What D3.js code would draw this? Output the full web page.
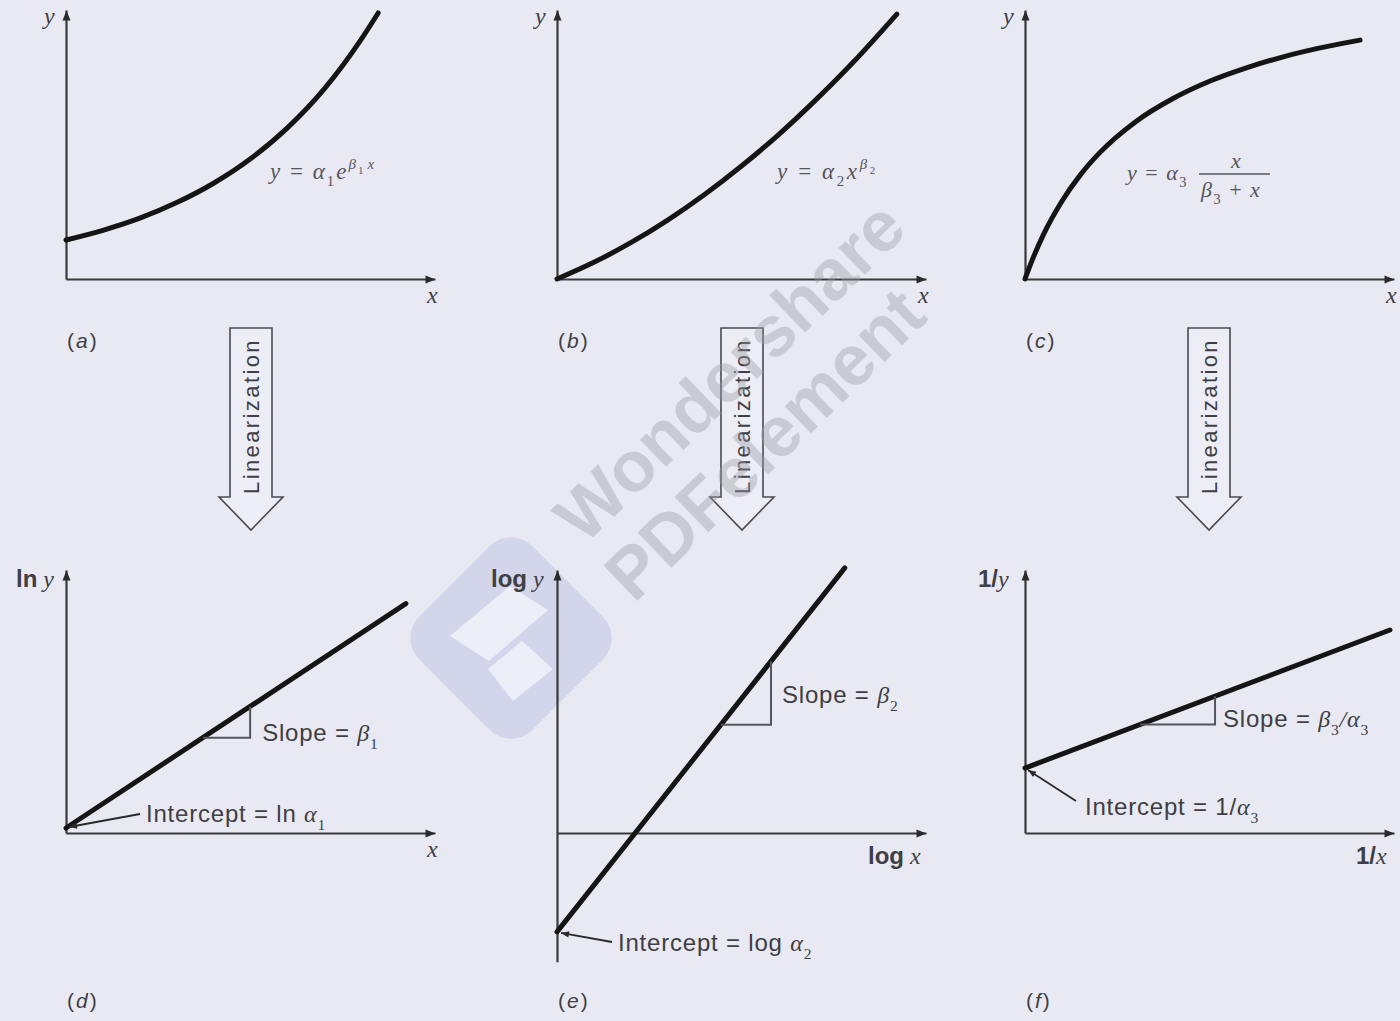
<!DOCTYPE html>
<html>
<head>
<meta charset="utf-8">
<script src="https://cdn.jsdelivr.net/npm/d3@7"></script>
<style>
  body { margin: 0; background: #e9e9f3; }
  svg { display: block; }
</style>
</head>
<body>
<div id="chart"></div>
<script>
// curve samples, in % of each axis length
const expX = [0, 10, 20, 30, 40, 50, 60, 70, 80, 84.6];
const expY = [14.5, 18.1, 22.6, 28.4, 35.6, 44.7, 56.2, 70.7, 89.1, 98.9];

const powX = [0, 10, 20, 30, 40, 50, 60, 70, 80, 92.1];
const powY = [0, 6.2, 13.5, 21.9, 31.4, 42.0, 53.6, 66.4, 80.2, 98.5];

const satX = [0, 2, 5, 10, 15, 20, 30, 40, 50, 60, 70, 80, 90.8];
const satY = [0, 7.2, 16.5, 28.9, 38.7, 46.6, 58.5, 67.0, 73.5, 78.5, 82.6, 85.9, 88.8];

// linearized straight lines (end points)
const lnX = [0, 92.1];
const lnY = [1.9, 87.2];
const logX = [0, 78.0];
const logY = [-37.6, 100.8];
const invX = [0, 98.9];
const invY = [24.7, 77.2];

// x range of the little slope triangles
const slopeD = [37.1, 49.9];
const slopeE = [44.4, 58.0];
const slopeF = [31.2, 51.5];

const panelLetters = ["a", "b", "c", "d", "e", "f"];
const arrowWord = "Linearization";

const W = 1400, H = 1021;
const sans = "'Liberation Sans', Arial, sans-serif";
const serif = "'Liberation Serif', 'Times New Roman', serif";
const ink = "#151515";
const axisCol = "#3a3a3a";
const textCol = "#3e3e44";
const mathCol = "#55555c";

const colX = [66, 557, 1025];
const rowY = [279, 833];

const svg = d3.select("#chart").append("svg")
    .attr("width", W)
    .attr("height", H)
    .style("background", "#e9e9f3");

const defs = svg.append("defs");
defs.append("marker")
    .attr("id", "ah")
    .attr("viewBox", "0 0 10 10")
    .attr("refX", 10).attr("refY", 5)
    .attr("markerUnits", "userSpaceOnUse")
    .attr("markerWidth", 12).attr("markerHeight", 10)
    .attr("orient", "auto")
    .append("path").attr("d", "M0,1L10,5L0,9Z").attr("fill", "#2a2a2a");
defs.append("marker")
    .attr("id", "lead")
    .attr("viewBox", "0 0 10 10")
    .attr("refX", 10).attr("refY", 5)
    .attr("markerUnits", "userSpaceOnUse")
    .attr("markerWidth", 10).attr("markerHeight", 8)
    .attr("orient", "auto")
    .append("path").attr("d", "M0,1L10,5L0,9Z").attr("fill", "#2a2a2a");

// ---- watermark logo (sits under everything) ----
const wm = svg.append("g");
wm.append("rect")
    .attr("x", -80).attr("y", -80).attr("width", 160).attr("height", 160)
    .attr("rx", 30)
    .attr("transform", "translate(511,638) rotate(45)")
    .attr("fill", "#d3d5ea");
wm.append("polygon")
    .attr("points", "450,636 510,586 548,610 489,661")
    .attr("fill", "#eceef8");
wm.append("polygon")
    .attr("points", "488,669 522,641 553,669 513,701")
    .attr("fill", "#eceef8");

function panel(ox, oy, yLen, yMin) {
    const x = d3.scaleLinear().domain([0, 100]).range([ox, ox + 369]);
    const y = d3.scaleLinear().domain([yMin, 100]).range([oy - yMin * yLen / 100, oy - yLen]);
    return { x, y };
}

function axes(g, p) {
    g.append("g")
        .attr("transform", `translate(0,${p.y(0)})`)
        .call(d3.axisBottom(p.x).tickValues([]).tickSizeOuter(0))
        .select(".domain")
        .attr("stroke", axisCol).attr("stroke-width", 2.2)
        .attr("marker-end", "url(#ah)");
    g.append("g")
        .attr("transform", `translate(${p.x(0)},0)`)
        .call(d3.axisLeft(p.y).tickValues([]).tickSizeOuter(0))
        .select(".domain")
        .attr("stroke", axisCol).attr("stroke-width", 2.2)
        .attr("marker-end", "url(#ah)");
}

// parts: {t, f, i, b, dx, lv}; lv = "sub" | "sup" | "supsub"
function rich(parent, x, y, parts, size, extra) {
    const t = parent.append("text")
        .attr("x", x).attr("y", y)
        .attr("font-size", size)
        .attr("fill", textCol);
    if (extra) extra(t);
    const lift = { sub: 0.32, sup: -0.45, supsub: -0.2 };
    const scale = { sub: 0.65, sup: 0.65, supsub: 0.48 };
    let shift = 0;
    parts.forEach(p => {
        const s = t.append("tspan").text(p.t);
        const target = p.lv ? size * lift[p.lv] : 0;
        s.attr("dy", target - shift);
        shift = target;
        if (p.lv) s.attr("font-size", size * scale[p.lv]);
        s.attr("font-family", p.f === "serif" ? serif : sans);
        if (p.i) s.attr("font-style", "italic");
        if (p.b) s.attr("font-weight", "bold");
        if (p.dx) s.attr("dx", p.dx);
    });
    return t;
}

function curve(g, p, xs, ys, k) {
    const pts = xs.map((v, i) => [v, ys[i]]);
    g.append("path")
        .datum(pts)
        .attr("d", d3.line().x(d => p.x(d[0])).y(d => p.y(d[1])).curve(k || d3.curveMonotoneX))
        .attr("fill", "none")
        .attr("stroke", ink)
        .attr("stroke-width", 5)
        .attr("stroke-linecap", "round");
}

function slopeTri(g, p, xs, ys, span) {
    const f = d3.scaleLinear().domain(xs).range(ys);
    const a = [p.x(span[0]), p.y(f(span[0]))];
    const b = [p.x(span[1]), p.y(f(span[0]))];
    const c = [p.x(span[1]), p.y(f(span[1]))];
    g.append("path")
        .attr("d", d3.line()([a, b, c]))
        .attr("fill", "none")
        .attr("stroke", "#55555c")
        .attr("stroke-width", 2);
}

function leader(g, from, to) {
    g.append("path")
        .attr("d", d3.line()([from, to]))
        .attr("stroke", "#2a2a2a")
        .attr("stroke-width", 1.8)
        .attr("marker-end", "url(#lead)");
}

function panelLabel(g, x, y, letter) {
    rich(g, x, y, [{ t: "(" }, { t: letter, i: true, dx: 2 }, { t: ")", dx: 2 }], 21);
}

// ---- top row ----
const pa = panel(colX[0], rowY[0], 269, 0);
const pb = panel(colX[1], rowY[0], 269, 0);
const pc = panel(colX[2], rowY[0], 269, 0);

[pa, pb, pc].forEach((p, i) => {
    const g = svg.append("g");
    axes(g, p);
    rich(g, p.x(0) - 22, 24, [{ t: "y", f: "serif", i: true }], 24);
    rich(g, p.x(100) - 8, p.y(0) + 24, [{ t: "x", f: "serif", i: true }], 24);
    panelLabel(g, p.x(0) + 1, 348, panelLetters[i]);
});

curve(svg, pa, expX, expY);
curve(svg, pb, powX, powY);
curve(svg, pc, satX, satY);

const fm = svg.append("g");
const mathStyle = sp => t => t.attr("letter-spacing", sp).attr("fill", mathCol);
rich(fm, 270, 179, [
    { t: "y", f: "serif", i: true }, { t: " = ", f: "serif" },
    { t: "α", f: "serif", i: true }, { t: "1", f: "serif", lv: "sub" },
    { t: "e", f: "serif", i: true }, { t: "β", f: "serif", i: true, lv: "sup" },
    { t: "1", f: "serif", lv: "supsub" }, { t: "x", f: "serif", i: true, lv: "sup", dx: 2 }
], 23, mathStyle(2));

rich(fm, 777, 179, [
    { t: "y", f: "serif", i: true }, { t: " = ", f: "serif" },
    { t: "α", f: "serif", i: true }, { t: "2", f: "serif", lv: "sub" },
    { t: "x", f: "serif", i: true }, { t: "β", f: "serif", i: true, lv: "sup" },
    { t: "2", f: "serif", lv: "supsub" }
], 23, mathStyle(2.6));

rich(fm, 1127, 180, [
    { t: "y", f: "serif", i: true }, { t: " = ", f: "serif" },
    { t: "α", f: "serif", i: true }, { t: "3", f: "serif", lv: "sub" }
], 22, mathStyle(1.5));
rich(fm, 1231, 168, [{ t: "x", f: "serif", i: true }], 22, mathStyle(0));
fm.append("line")
    .attr("x1", 1199).attr("x2", 1270).attr("y1", 174).attr("y2", 174)
    .attr("stroke", mathCol).attr("stroke-width", 1.6);
rich(fm, 1201, 197, [
    { t: "β", f: "serif", i: true }, { t: "3", f: "serif", lv: "sub" },
    { t: " + ", f: "serif" }, { t: "x", f: "serif", i: true }
], 22, mathStyle(1.5));

// ---- linearization arrows ----
[251, 742, 1209].forEach(cx => {
    const top = 328, boxBot = 497, tip = 530, hw = 21, hh = 32;
    const pts = [[cx - hw, top], [cx + hw, top], [cx + hw, boxBot], [cx + hh, boxBot],
                 [cx, tip], [cx - hh, boxBot], [cx - hw, boxBot]];
    svg.append("path")
        .attr("d", d3.line()(pts) + "Z")
        .attr("fill", "#ededf6")
        .attr("stroke", "#4a4a50")
        .attr("stroke-width", 1.6);
    svg.append("text")
        .attr("transform", `translate(${cx + 8},${494}) rotate(-90)`)
        .attr("font-family", sans)
        .attr("font-size", 22)
        .attr("letter-spacing", 2.4)
        .attr("fill", textCol)
        .text(arrowWord);
});

// ---- bottom row ----
const pd = panel(colX[0], rowY[1], 263, 0);
const pe = panel(colX[1], rowY[1], 263, -49);
const pf = panel(colX[2], rowY[1], 263, 0);

[pd, pe, pf].forEach((p, i) => {
    const g = svg.append("g");
    axes(g, p);
    panelLabel(g, p.x(0) + 1, 1008, panelLetters[i + 3]);
});

const lab = svg.append("g");
rich(lab, 16, 587, [{ t: "ln", b: true }, { t: " y", f: "serif", i: true }], 24);
rich(lab, pd.x(100) - 8, pd.y(0) + 24, [{ t: "x", f: "serif", i: true }], 24);
rich(lab, 491, 587, [{ t: "log", b: true }, { t: " y", f: "serif", i: true }], 24);
rich(lab, 868, 864, [{ t: "log", b: true }, { t: " x", f: "serif", i: true }], 24);
rich(lab, 978, 587, [{ t: "1/", b: true }, { t: "y", f: "serif", i: true }], 24);
rich(lab, 1356, 864, [{ t: "1/", b: true }, { t: "x", f: "serif", i: true }], 24);

curve(svg, pd, lnX, lnY, d3.curveLinear);
curve(svg, pe, logX, logY, d3.curveLinear);
curve(svg, pf, invX, invY, d3.curveLinear);

slopeTri(svg, pd, lnX, lnY, slopeD);
slopeTri(svg, pe, logX, logY, slopeE);
slopeTri(svg, pf, invX, invY, slopeF);

const ann = svg.append("g");
const ls = t => t.attr("letter-spacing", 0.8);
rich(ann, pd.x(slopeD[1]) + 12, 741, [
    { t: "Slope = " }, { t: "β", f: "serif", i: true }, { t: "1", f: "serif", lv: "sub" }
], 24, ls);
rich(ann, pe.x(slopeE[1]) + 11, 703, [
    { t: "Slope = " }, { t: "β", f: "serif", i: true }, { t: "2", f: "serif", lv: "sub" }
], 24, ls);
rich(ann, pf.x(slopeF[1]) + 8, 727, [
    { t: "Slope = " }, { t: "β", f: "serif", i: true }, { t: "3", f: "serif", lv: "sub" },
    { t: "/", f: "serif", i: true }, { t: "α", f: "serif", i: true }, { t: "3", f: "serif", lv: "sub" }
], 24, ls);

rich(ann, 146, 822, [
    { t: "Intercept = ln " }, { t: "α", f: "serif", i: true }, { t: "1", f: "serif", lv: "sub" }
], 24, ls);
rich(ann, 618, 951, [
    { t: "Intercept = log " }, { t: "α", f: "serif", i: true }, { t: "2", f: "serif", lv: "sub" }
], 24, ls);
rich(ann, 1085, 815, [
    { t: "Intercept = 1/" }, { t: "α", f: "serif", i: true }, { t: "3", f: "serif", lv: "sub" }
], 24, ls);

leader(ann, [140, 814], [pd.x(0) + 3, pd.y(lnY[0]) - 1]);
leader(ann, [612, 942], [pe.x(0) + 4, pe.y(logY[0]) + 1]);
leader(ann, [1076, 801], [pf.x(0) + 3, pf.y(invY[0]) + 2]);

// ---- watermark text (on top, translucent) ----
const wt = svg.append("g")
    .attr("font-family", sans)
    .attr("font-weight", "bold")
    .attr("font-size", 71)
    .attr("fill", "#9c9ca6")
    .attr("opacity", 0.4);
wt.append("text").attr("transform", "translate(584,546) rotate(-44)").text("Wondershare");
wt.append("text").attr("transform", "translate(634,604) rotate(-44)").text("PDFelement");
</script>
</body>
</html>
